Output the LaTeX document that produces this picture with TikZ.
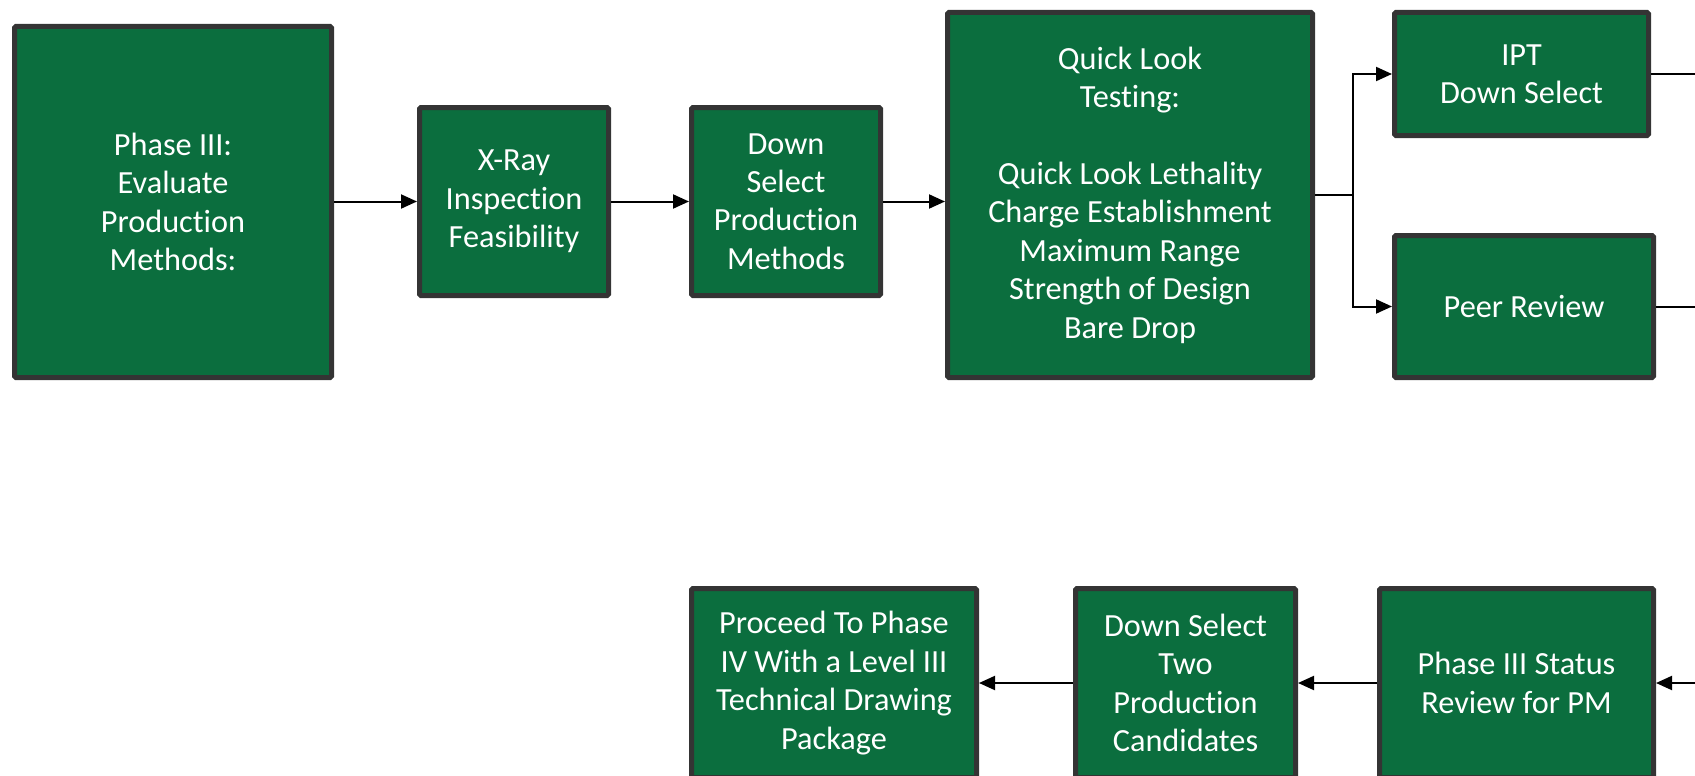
\documentclass[tikz,border=0pt]{standalone}
\usepackage{fontspec}
\setmainfont{Carlito}[Ligatures=CommonOff]
\usetikzlibrary{arrows.meta}
\definecolor{boxgreen}{RGB}{11,110,62}
\definecolor{boxedge}{RGB}{52,52,52}
\tikzset{
  procbox/.style={draw=boxedge, line width=5pt, fill=boxgreen, rounded corners=1.5pt,
    text=white, align=center, inner sep=0pt,
    font=\fontsize{32.3}{38.4}\selectfont},
  conn/.style={line width=2pt, -{Triangle[length=16pt,width=14pt]}},
  plain/.style={line width=2pt}
}
\begin{document}
\begin{tikzpicture}[x=1pt,y=-1pt]
\useasboundingbox (0,0) rectangle (1695,776);
\clip (0,0) rectangle (1695,776);
\node[procbox, minimum width=317pt, minimum height=351pt] (p3) at (173,202) {Phase III:\\Evaluate\\Production\\Methods:};
\node[procbox, minimum width=189pt, minimum height=188pt] (xray) at (514,201.5) {X-Ray\\Inspection\\Feasibility};
\node[procbox, minimum width=189pt, minimum height=188pt] (dsel) at (786,201.5) {Down\\Select\\Production\\Methods};
\node[procbox, minimum width=365pt, minimum height=365pt] (ql) at (1130,195) {Quick Look\\Testing:\\[38.4pt]Quick Look Lethality\\Charge Establishment\\Maximum Range\\Strength of Design\\Bare Drop};
\node[procbox, minimum width=254pt, minimum height=123pt] (ipt) at (1521.5,74) {IPT\\Down Select};
\node[procbox, minimum width=259pt, minimum height=142pt] (peer) at (1524,306.5) {Peer Review};
\node[procbox, minimum width=285pt, minimum height=189pt] (proc) at (834,683) {Proceed To Phase\\IV With a Level III\\Technical Drawing\\Package};
\node[procbox, minimum width=220pt, minimum height=189pt] (two) at (1185.5,683) {Down Select\\Two\\Production\\Candidates};
\node[procbox, minimum width=274pt, minimum height=189pt] (stat) at (1516.5,683) {Phase III Status\\Review for PM};
\coordinate (br) at (1353,195);
\coordinate (iptout) at (1720,74);
\coordinate (peerout) at (1720,306.5);
\coordinate (statin) at (1720,683);
\draw[conn] (p3.east |- 0,201.5) -- (xray.west);
\draw[conn] (xray) -- (dsel);
\draw[conn] (dsel.east) -- (ql.west |- dsel.east);
\draw[plain] (ql.east |- br) -- (br);
\draw[conn] (br) |- (ipt.west);
\draw[conn] (br) |- (peer.west);
\draw[plain] (ipt.east) -- (iptout);
\draw[plain] (peer.east) -- (peerout);
\draw[conn] (statin) -- (stat.east);
\draw[conn] (stat.west) -- (two.east);
\draw[conn] (two.west) -- (proc.east);
\end{tikzpicture}
\end{document}
